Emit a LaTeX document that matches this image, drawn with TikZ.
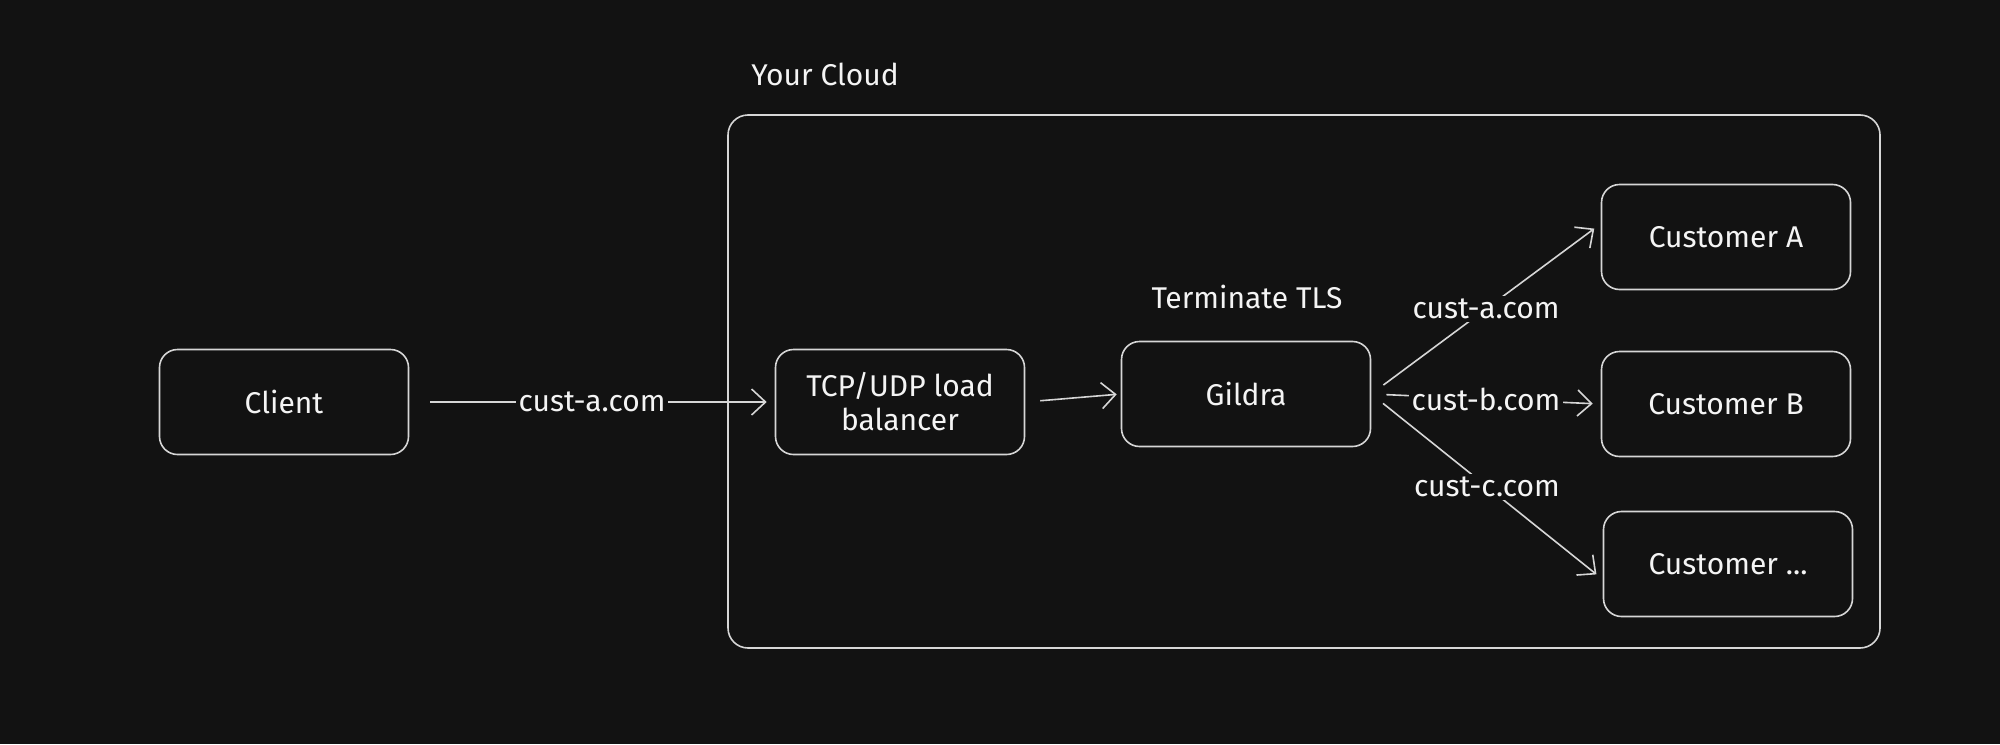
\documentclass[tikz,border=0pt]{standalone}
\usepackage{fontspec}
\setmainfont{Fira Sans}
\usetikzlibrary{arrows.meta}
\definecolor{bgcol}{HTML}{121212}
\definecolor{linegray}{HTML}{D6D6D6}
\definecolor{txtcol}{HTML}{F4F4F4}
\begin{document}
\begin{tikzpicture}[x=0.5pt,y=-0.5pt,
  box/.style={draw=linegray, line width=0.8pt, rounded corners=9pt, minimum width=124.5pt, minimum height=52.5pt, text=txtcol, font=\fontsize{15}{17}\selectfont, align=center, fill=bgcol, inner sep=1pt},
  lbl/.style={fill=bgcol, text=txtcol, inner sep=1.5pt, font=\fontsize{15}{17}\selectfont},
  title/.style={text=txtcol, font=\fontsize{15}{17}\selectfont, inner sep=0pt},
  frame/.style={draw=linegray, line width=0.8pt, rounded corners=10pt},
  conn/.style={draw=linegray, line width=0.8pt, -{Straight Barb[length=7pt,width=13pt]}}]
\fill[bgcol] (0,0) rectangle (2000,744);
\useasboundingbox (0,0) rectangle (2000,744);
\draw[frame] (728,115) rectangle (1880,648);
\node[title, anchor=west] (cloudlbl) at (751,74) {Your Cloud};
\node[box] (client) at (284,402) {Client};
\node[box] (lb) at (900,402) {TCP/UDP load\\balancer};
\node[box] (gildra) at (1246,394) {Gildra};
\node[title] (tls) at (1247,297) {Terminate TLS};
\node[box] (ca) at (1726,237) {Customer A};
\node[box] (cb) at (1726,404) {Customer B};
\node[box] (cc) at (1728,564) {Customer ...};
\draw[conn, shorten <=10.5pt, shorten >=4pt] (client) -- node[lbl] {cust-a.com} (lb);
\draw[conn, shorten <=7.5pt, shorten >=2pt] (lb.east) -- (gildra.west);
\draw[conn, shorten <=7.5pt, shorten >=4pt] (gildra.east) -- node[lbl] {cust-a.com} (ca.174);
\draw[conn, shorten <=7.5pt, shorten >=4pt] (gildra.east) -- node[lbl] {cust-b.com} (cb.west);
\draw[conn, shorten <=7.5pt, shorten >=4pt] (gildra.east) -- node[lbl] {cust-c.com} (cc.187);
\end{tikzpicture}
\end{document}
